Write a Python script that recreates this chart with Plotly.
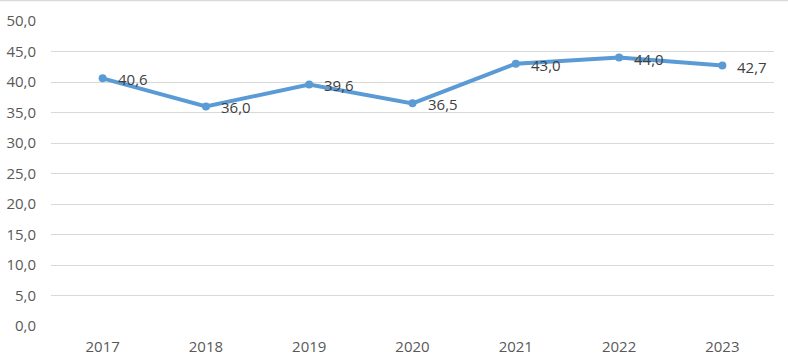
import plotly.graph_objects as go

years = ["2017", "2018", "2019", "2020", "2021", "2022", "2023"]
values = [40.6, 36.0, 39.6, 36.5, 43.0, 44.0, 42.7]
y_ticks = [0, 5, 10, 15, 20, 25, 30, 35, 40, 45, 50]
y_tick_labels = ["0,0", "5,0", "10,0", "15,0", "20,0", "25,0", "30,0", "35,0", "40,0", "45,0", "50,0"]
value_labels = [f"{v:.1f}".replace(".", ",") for v in values]

fig = go.Figure()
fig.add_trace(go.Scatter(
    x=years, y=values, mode="lines+markers",
    line=dict(color="#5B9BD5", width=4),
    marker=dict(color="#5B9BD5", size=8),
    showlegend=False, hoverinfo="skip",
))

# category index positions for the labels (category axis)
annotations = [
    dict(x=i, y=v, text=t, xref="x", yref="y", showarrow=False,
         xanchor="left", yanchor="middle", xshift=13, yshift=-1,
         font=dict(family="Open Sans, sans-serif", size=15, color="#404040"))
    for i, (v, t) in enumerate(zip(values, value_labels))
]

fig.update_layout(
    width=788, height=363,
    margin=dict(l=51, r=14, t=21, b=37),
    plot_bgcolor="white", paper_bgcolor="white",
    font=dict(family="Open Sans, sans-serif", size=15, color="#595959"),
    xaxis=dict(type="category", categoryorder="array", categoryarray=years,
               range=[-0.5, len(years) - 0.5], automargin=False,
               showgrid=False, zeroline=False, showline=False,
               ticks="", ticklabelstandoff=10,
               tickfont=dict(size=15, color="#595959")),
    yaxis=dict(range=[0, 50], tickvals=y_ticks, ticktext=y_tick_labels,
               automargin=False,
               showgrid=True, gridcolor="#D9D9D9", gridwidth=1, zeroline=False,
               showline=False, ticks="", ticklabelstandoff=14,
               tickfont=dict(size=15, color="#595959")),
    annotations=annotations,
    shapes=[dict(type="line", xref="paper", yref="paper", x0=-0.1, x1=1.1,
                 y0=1.067, y1=1.067, line=dict(color="#D9D9D9", width=1.5))],
)

fig.write_html("out.html", config={"displayModeBar": False},
               post_script="document.body.style.margin='0';")
